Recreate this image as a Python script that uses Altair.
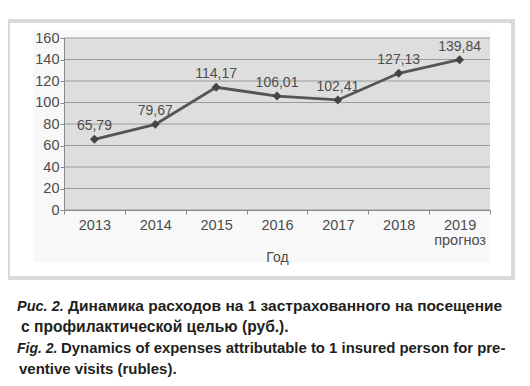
import altair as alt
import pandas as pd

years = ["2013", "2014", "2015", "2016", "2017", "2018", "2019"]
values = [65.79, 79.67, 114.17, 106.01, 102.41, 127.13, 139.84]
forecast_note = "прогноз"
y_ticks = [0, 20, 40, 60, 80, 100, 120, 140, 160]
x_title = "Год"
cap1a = "Рис. 2."
cap1b = "Динамика расходов на 1 застрахованного на посещение"
cap2 = "с профилактической целью (руб.)."
cap3a = "Fig. 2."
cap3b = "Dynamics of expenses attributable to 1 insured person for pre-"
cap4 = "ventive visits (rubles)."

df = pd.DataFrame({
    "year": years,
    "value": values,
    "label": [f"{v:.2f}".replace(".", ",") for v in values],
})
grid_df = pd.DataFrame({"value": y_ticks})

W, H = 426, 172
FONT = "Liberation Sans"
one = alt.Data(values=[{}])

xscale = alt.Scale(type="band", domain=years, paddingInner=0, paddingOuter=0)
yscale = alt.Scale(domain=[0, 160])
yaxis = alt.Axis(title=None, values=y_ticks, grid=False,
                 labelFont=FONT, labelFontSize=14.5, labelColor="#4d4d4d",
                 labelPadding=1, domainColor="#8a8a8a", tickColor="#8a8a8a",
                 tickSize=4, zindex=1)

frame = alt.Chart(one).mark_rect(fill="white", stroke="#d9d9d9", strokeWidth=4).encode(
    x=alt.value(-56), x2=alt.value(449), y=alt.value(-17), y2=alt.value(240))
inner = alt.Chart(one).mark_rect(fill="#f8f8f8").encode(
    x=alt.value(-31), x2=alt.value(W), y=alt.value(-8), y2=alt.value(224))
plotbg = alt.Chart(one).mark_rect(fill="#dedede").encode(
    x=alt.value(0), x2=alt.value(W), y=alt.value(0), y2=alt.value(H))

grid = alt.Chart(grid_df).mark_rule(color="#9a9a9a", strokeWidth=1).encode(
    y=alt.Y("value:Q", scale=yscale, axis=yaxis))

base = alt.Chart(df).encode(
    x=alt.X("year:N", scale=xscale, bandPosition=0.5,
            axis=alt.Axis(title=x_title, labelAngle=0, tickBand="extent",
                          labelExpr=f"datum.value == '2019' ? ['2019', '{forecast_note}'] : datum.label",
                          labelFont=FONT, labelFontSize=14.5, labelColor="#4d4d4d",
                          labelPadding=4, labelLineHeight=15,
                          titleFont=FONT, titleFontSize=14, titleFontWeight="normal",
                          titleColor="#4d4d4d", titlePadding=4,
                          domainColor="#8a8a8a", tickColor="#8a8a8a", tickSize=4,
                          grid=False, zindex=1)),
    y=alt.Y("value:Q", scale=yscale, axis=yaxis),
)
line = base.mark_line(color="#555555", strokeWidth=2.8)
pts = base.mark_point(shape="diamond", filled=True, size=80, color="#444444", opacity=1)
labels = base.mark_text(font=FONT, fontSize=14, color="#4d4d4d", baseline="bottom", dy=-6).encode(
    text="label:N")


def cap(text, x, y, italic=False, size=15):
    return alt.Chart(one).mark_text(
        text=text, font=FONT, fontSize=size, fontWeight="bold",
        fontStyle="italic" if italic else "normal", align="left",
        baseline="alphabetic", color="#231f20").encode(x=alt.value(x), y=alt.value(y))


caps = [
    cap(cap1a, -47, 273, True, 14.5), cap(cap1b, 4, 273, size=15.5),
    cap(cap2, -43, 294, size=15.6),
    cap(cap3a, -47, 315, True, 14), cap(cap3b, -3, 315, size=14.9),
    cap(cap4, -45, 336, size=15),
]

chart = alt.layer(frame, inner, plotbg, grid, line, pts, labels, *caps).properties(
    width=W, height=H,
    padding={"left": 56, "top": 30, "right": 32, "bottom": 168},
    autosize=alt.AutoSizeParams(type="none"),
).configure_view(stroke=None)

chart.save("out.html", embed_options={"renderer": "svg", "actions": False})
